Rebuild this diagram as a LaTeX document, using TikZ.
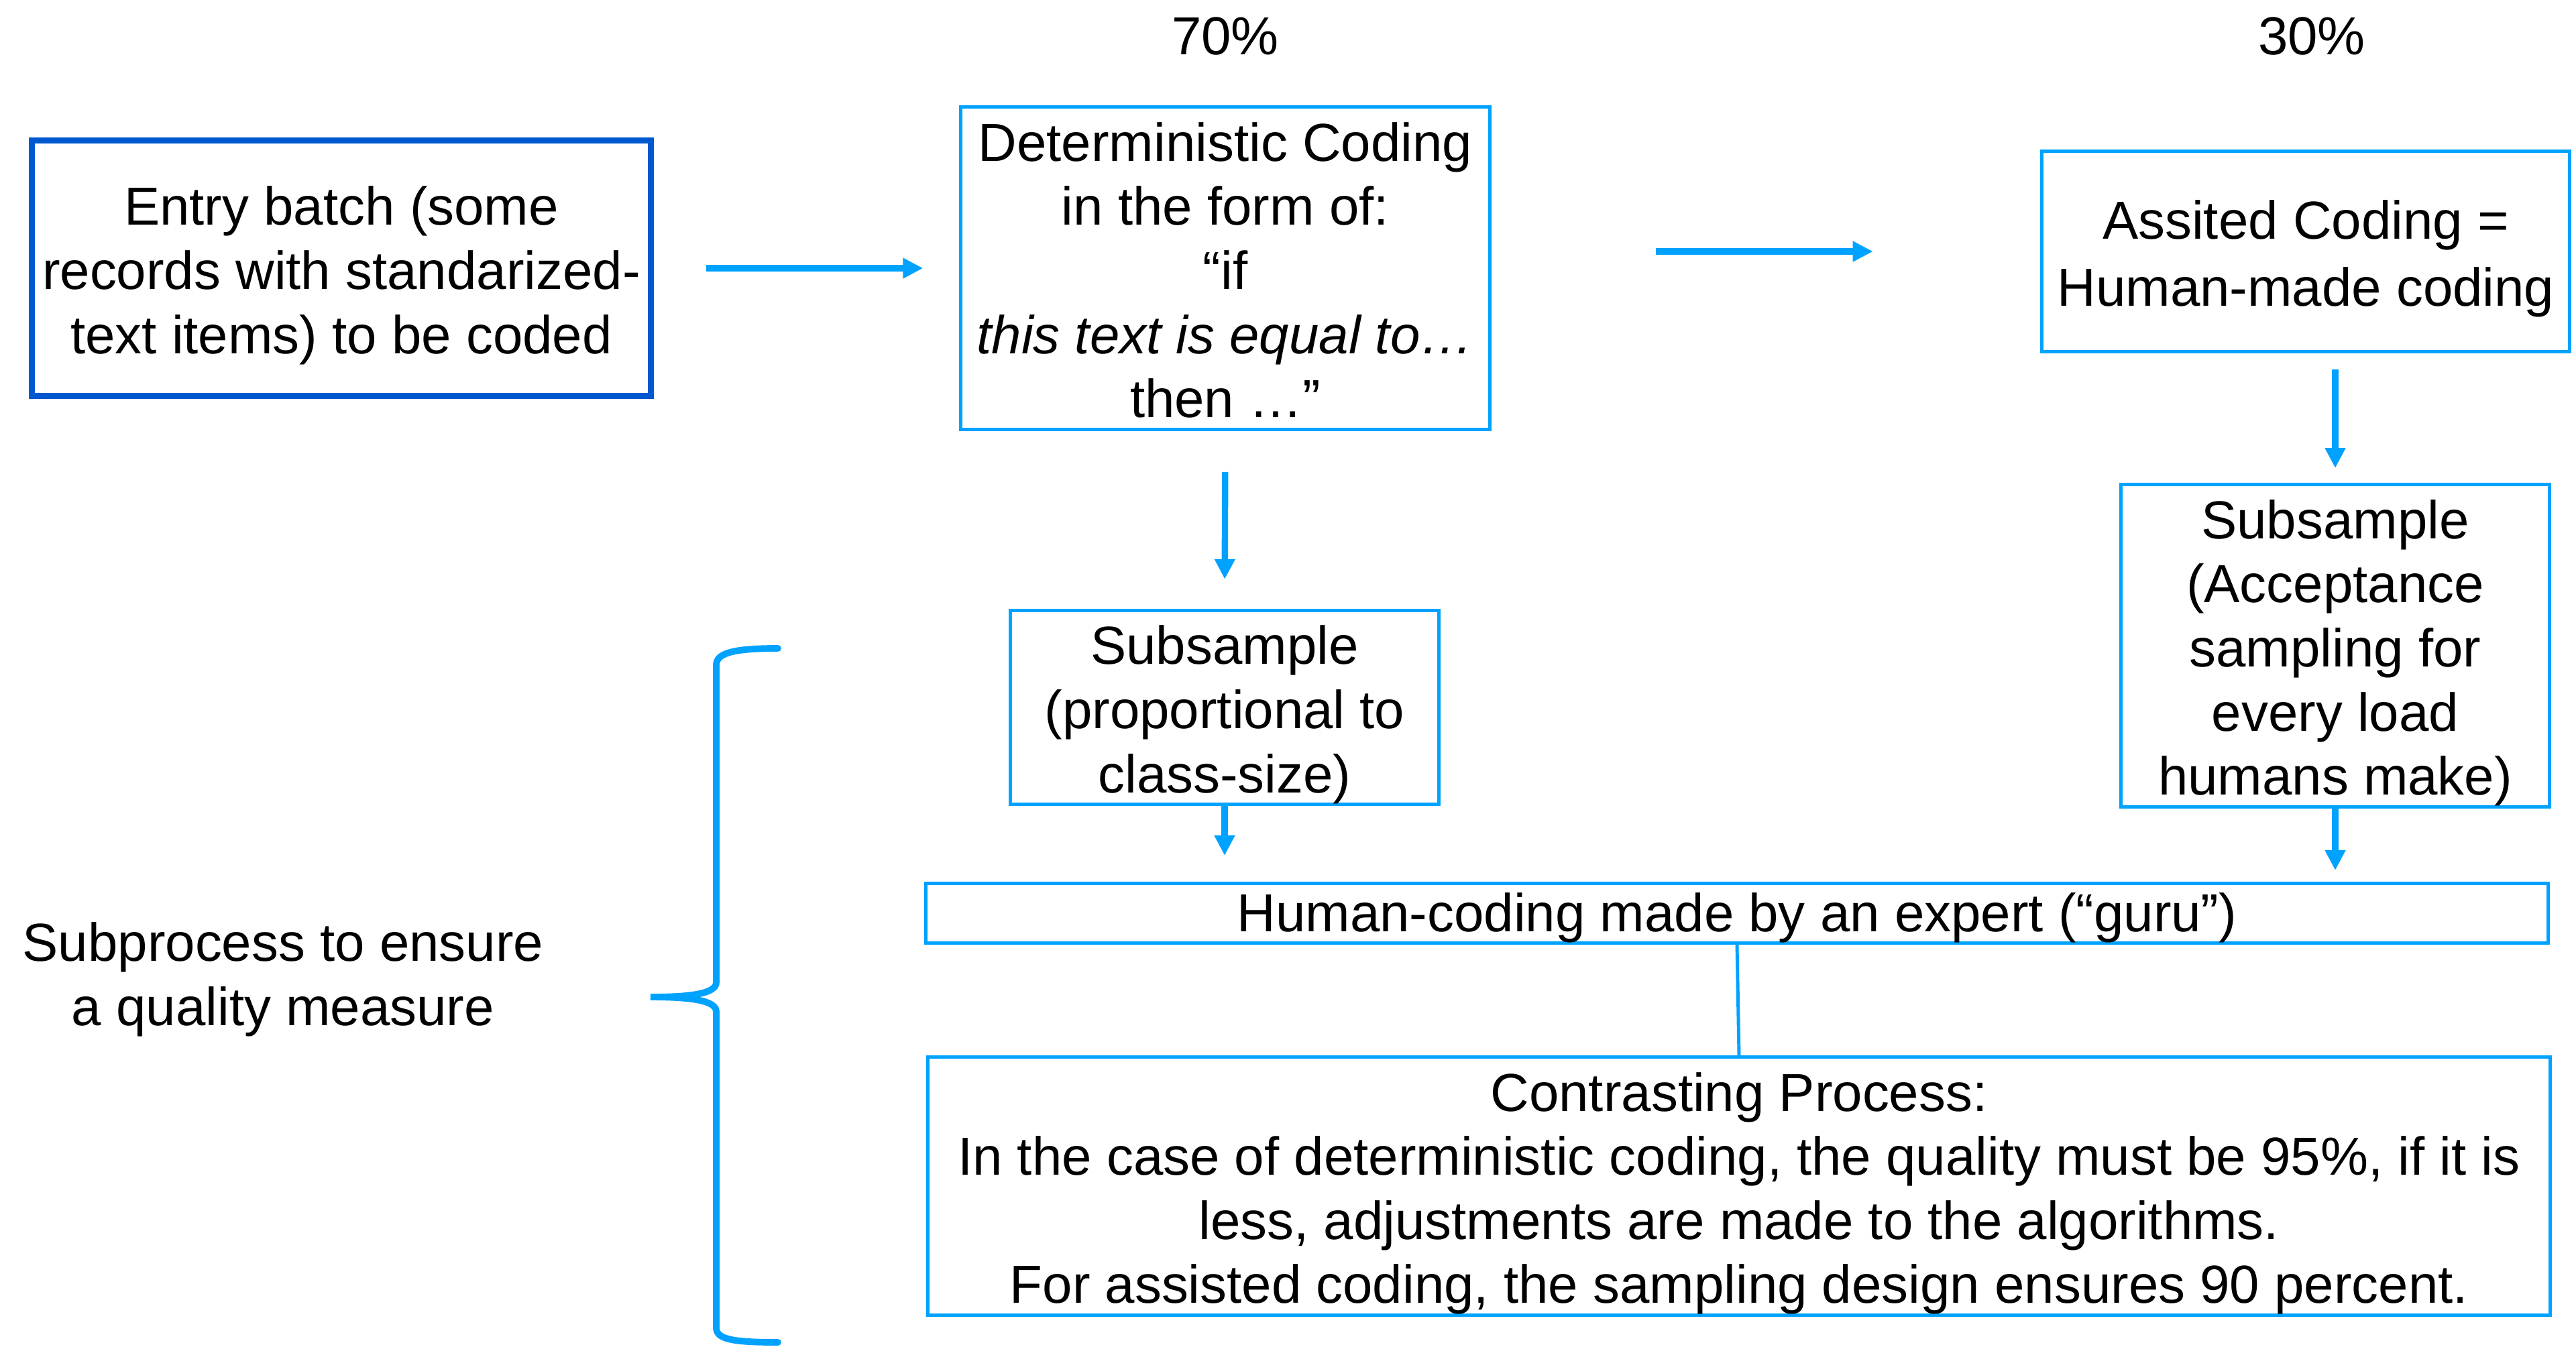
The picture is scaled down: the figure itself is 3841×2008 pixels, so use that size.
\documentclass[tikz,border=0pt]{standalone}
\usepackage{fontspec}
\setmainfont{Liberation Sans}
\usetikzlibrary{arrows.meta,positioning}
\definecolor{flowblue}{RGB}{0,162,255}
\definecolor{entryblue}{RGB}{0,88,208}
\newcommand{\boxstrut}{\rule{0pt}{22.9pt}}

\begin{document}
\begin{tikzpicture}[x=0.01cm,y=-0.01cm,
    every node/.style={font=\fontsize{22.7}{27.2}\selectfont,align=center,inner sep=0pt},
    multi/.style={execute at end node={\rule[-5pt]{0pt}{0pt}}},
    box/.style={draw=flowblue,line width=1.4pt},
    flow/.style={flowblue,line width=2.65pt,-{Triangle[length=0.3cm,width=0.29cm]}}]
    \useasboundingbox (0,0) rectangle (3841,2008);
    % top row
    \node[multi,draw=entryblue,line width=2.6pt,minimum width=9.22cm,minimum height=3.8cm] (entry) at (509,400)
        {\boxstrut Entry batch (some\\records with standarized-\\text items) to be coded};
    \node[multi,box,minimum width=7.88cm,minimum height=4.78cm] (det) at (1827,400)
        {\boxstrut Deterministic Coding\\in the form of:\\“if\\\textit{this text is equal to…}\\then …”};
    \node[multi,box,minimum width=7.87cm,minimum height=2.99cm] (assist) at (3438,375)
        {\boxstrut Assited Coding =\\[0.05cm]Human-made coding};
    \node (p70) at (1827,54) {70\%};
    \node (p30) at (3447,54) {30\%};
    % subsamples
    \node[multi,box,minimum width=6.39cm,minimum height=2.86cm] (subL) at (1826,1055)
        {\boxstrut Subsample\\(proportional to\\class-size)};
    \node[multi,box,minimum width=6.39cm,minimum height=4.8cm] (subR) at (3482,963)
        {\boxstrut Subsample\\(Acceptance\\sampling for\\every load\\humans make)};
    \node[box,minimum width=24.18cm,minimum height=0.89cm] (human) at (2590,1362)
        {\rule{0pt}{20.6pt}Human-coding made by an expert (“guru”)};
    \node[multi,box,minimum width=24.17cm,minimum height=3.82cm] (contrast) at (2593,1769)
        {\boxstrut Contrasting Process:\\In the case of deterministic coding, the quality must be 95\%, if it is\\less, adjustments are made to the algorithms.\\For assisted coding, the sampling design ensures 90 percent.};
    \node[multi] (note) at (422,1450) {\boxstrut Subprocess to ensure\\a quality measure};
    % connectors
    \draw[flow,shorten <=0.78cm,shorten >=0.54cm] (entry.east) -- (det.west);
    \draw[flow,shorten <=2.45cm,shorten >=2.49cm] (det.east |- assist.west) -- (assist.west);
    \draw[flow,shorten <=0.61cm,shorten >=0.44cm] (det.south) -- (subL.north);
    \draw[flow,shorten <=0.24cm,shorten >=0.22cm] (assist.south -| subR.north) -- (subR.north);
    \draw[flow,shorten >=0.39cm] (subL.south) -- (subL.south |- human.north);
    \draw[flow,shorten >=0.17cm] (subR.south) -- (subR.south |- human.north);
    \draw[flowblue,line width=1.4pt] (human.south) -- (contrast.north);
    % brace
    \draw[flowblue,line width=2.8pt,line cap=round]
        (1160,967) .. controls (1090,967) and (1068,975) .. (1068,992) -- (1068,1465)
        .. controls (1068,1482) and (1030,1487) .. (970,1487)
        .. controls (1030,1487) and (1068,1492) .. (1068,1509) -- (1068,1980)
        .. controls (1068,1997) and (1090,2002) .. (1160,2002);
\end{tikzpicture}
\end{document}
